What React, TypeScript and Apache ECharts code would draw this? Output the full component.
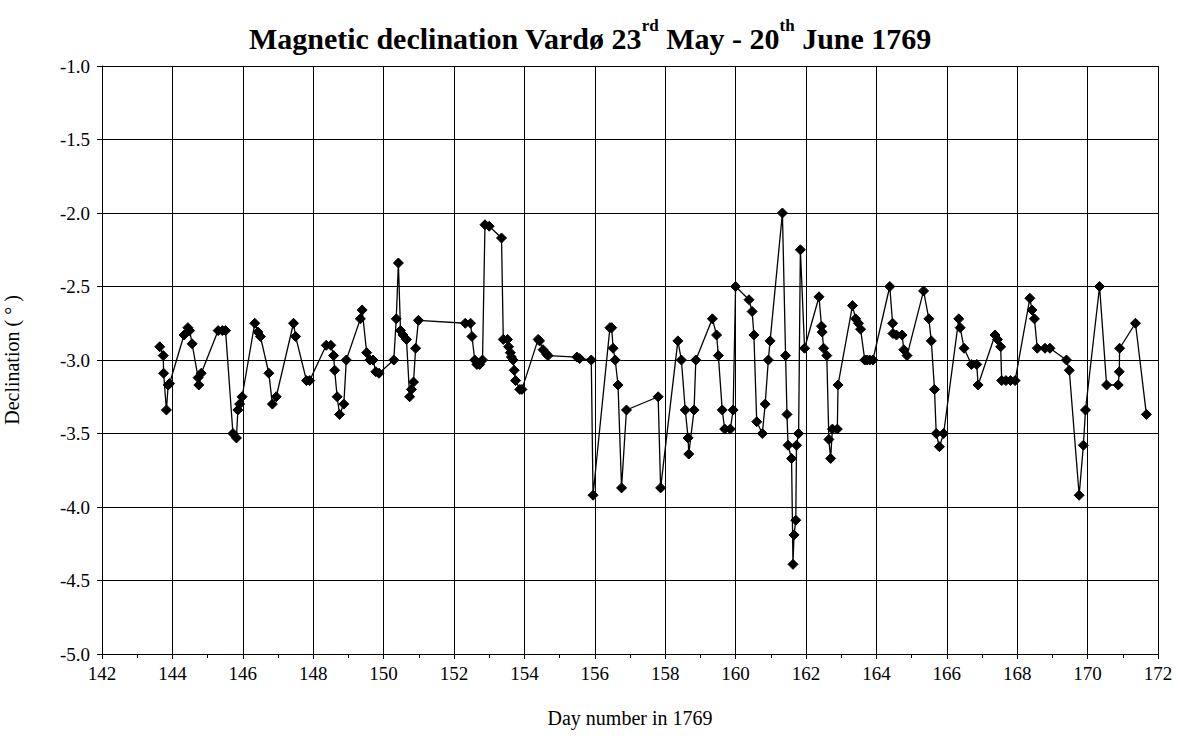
import React, { useEffect, useRef } from "react";
import * as echarts from "echarts";

const days: number[] = [
  143.64, 143.74, 143.75, 143.83, 143.88, 143.92, 144.33, 144.44, 144.49, 144.56, 144.73, 144.75, 144.82,
  145.30, 145.42, 145.51, 145.72, 145.82, 145.86, 145.91, 145.98, 146.34, 146.43, 146.50, 146.74, 146.84,
  146.95, 147.44, 147.50, 147.81, 147.90, 148.37, 148.50, 148.58, 148.61, 148.68, 148.75, 148.87, 148.94,
  149.34, 149.39, 149.52, 149.61, 149.70, 149.78, 149.87, 150.29, 150.36, 150.42, 150.48, 150.55, 150.65,
  150.74, 150.79, 150.85, 150.91, 150.99, 152.32, 152.47, 152.51, 152.59, 152.65, 152.73, 152.81, 152.88,
  153.00, 153.35, 153.40, 153.52, 153.55, 153.60, 153.63, 153.68, 153.71, 153.75, 153.87, 153.93, 154.39,
  154.43, 154.53, 154.63, 154.67, 155.49, 155.57, 155.90, 155.95, 156.43, 156.48, 156.52, 156.58, 156.66,
  156.76, 156.90, 157.80, 157.87, 158.36, 158.46, 158.57, 158.65, 158.67, 158.82, 158.87, 159.34, 159.46,
  159.51, 159.62, 159.69, 159.85, 159.93, 160.00, 160.38, 160.47, 160.52, 160.60, 160.76, 160.84, 160.93,
  160.98, 161.33, 161.42, 161.46, 161.49, 161.59, 161.63, 161.66, 161.71, 161.73, 161.79, 161.84, 161.96,
  162.37, 162.44, 162.46, 162.50, 162.59, 162.65, 162.70, 162.75, 162.89, 162.91, 163.32, 163.41, 163.49,
  163.55, 163.67, 163.73, 163.81, 163.90, 164.38, 164.46, 164.47, 164.57, 164.73, 164.78, 164.87, 165.34,
  165.49, 165.56, 165.65, 165.70, 165.79, 165.91, 166.34, 166.38, 166.49, 166.70, 166.85, 166.89, 167.37,
  167.44, 167.53, 167.56, 167.68, 167.81, 167.94, 168.36, 168.42, 168.49, 168.57, 168.79, 168.93, 169.40,
  169.48, 169.76, 169.88, 169.94, 170.34, 170.54, 170.87, 170.90, 170.91, 171.36, 171.67,
];

const declination: number[] = [
  -2.91, -2.97, -3.09, -3.34, -3.17, -3.16, -2.83, -2.78, -2.80, -2.89, -3.12, -3.17, -3.09,
  -2.80, -2.80, -2.80, -3.50, -3.53, -3.34, -3.30, -3.25, -2.75, -2.81, -2.84, -3.09, -3.30,
  -3.25, -2.75, -2.84, -3.14, -3.14, -2.90, -2.90, -2.97, -3.07, -3.25, -3.37, -3.30, -3.00,
  -2.72, -2.66, -2.95, -3.00, -3.00, -3.08, -3.09, -3.00, -2.72, -2.34, -2.80, -2.83, -2.86,
  -3.25, -3.20, -3.15, -2.92, -2.73, -2.75, -2.75, -2.84, -3.00, -3.03, -3.03, -3.00, -2.08,
  -2.09, -2.17, -2.86, -2.86, -2.91, -2.95, -2.98, -3.00, -3.07, -3.14, -3.20, -3.20, -2.86,
  -2.87, -2.93, -2.96, -2.97, -2.98, -2.99, -3.00, -3.92, -2.78, -2.78, -2.92, -3.00, -3.17,
  -3.87, -3.34, -3.25, -3.87, -2.87, -3.00, -3.34, -3.53, -3.64, -3.34, -3.00, -2.72, -2.83,
  -2.97, -3.34, -3.47, -3.47, -3.34, -2.50, -2.59, -2.67, -2.83, -3.42, -3.50, -3.30, -3.00,
  -2.87, -2.00, -2.97, -3.37, -3.58, -3.67, -4.39, -4.19, -4.09, -3.58, -3.50, -2.25, -2.92,
  -2.57, -2.77, -2.81, -2.92, -2.97, -3.54, -3.67, -3.47, -3.47, -3.17, -2.63, -2.72, -2.75,
  -2.79, -3.00, -3.00, -3.00, -3.00, -2.50, -2.75, -2.82, -2.83, -2.83, -2.93, -2.97, -2.53,
  -2.72, -2.87, -3.20, -3.50, -3.59, -3.50, -2.72, -2.78, -2.92, -3.03, -3.03, -3.17, -2.83,
  -2.86, -2.91, -3.14, -3.14, -3.14, -3.14, -2.58, -2.66, -2.72, -2.92, -2.92, -2.92, -3.00,
  -3.07, -3.92, -3.58, -3.34, -2.50, -3.17, -3.17, -3.08, -2.92, -2.75, -3.37,
];

const xMin = 142;
const xMax = 172;
const xStep = 2;
const yMin = -5;
const yMax = -1;
const yStep = 0.5;

const FONT = "'Liberation Serif', 'Times New Roman', serif";

export default function App() {
  const ref = useRef<HTMLDivElement>(null);

  useEffect(() => {
    document.body.style.margin = "0";
    if (!ref.current) return;
    const chart = echarts.init(ref.current, undefined, { renderer: "svg" });
    const points = days.map((d, i) => [d, declination[i]]);
    chart.setOption({
      animation: false,
      backgroundColor: "#ffffff",
      title: {
        text: "{m|Magnetic declination Vardø 23}{s|rd}{m| May - 20}{s|th}{m| June 1769}",
        left: "center",
        top: 12,
        textStyle: {
          rich: {
            m: { fontFamily: FONT, fontSize: 30, fontWeight: "bold", color: "#000", lineHeight: 36, verticalAlign: "bottom" },
            s: { fontFamily: FONT, fontSize: 17, fontWeight: "bold", color: "#000", lineHeight: 36, verticalAlign: "top", padding: [0, 0, 8, 0] },
          },
        },
      },
      grid: { left: 102, right: 22, top: 66, bottom: 92, show: false, containLabel: false, outerBoundsMode: "none" },
      xAxis: {
        type: "value",
        min: xMin,
        max: xMax,
        interval: xStep,
        name: "Day number in 1769",
        nameLocation: "middle",
        nameGap: 54,
        nameTextStyle: { fontFamily: FONT, fontSize: 20, color: "#000" },
        axisLine: { show: true, lineStyle: { color: "#000", width: 1 } },
        axisTick: { show: true, inside: false, length: 5, lineStyle: { color: "#000" } },
        minorTick: { show: true, splitNumber: 2, length: 4, lineStyle: { color: "#000" } },
        axisLabel: { fontFamily: FONT, fontSize: 19, color: "#000", margin: 10 },
        splitLine: { show: true, lineStyle: { color: "#000", width: 1 } },
      },
      yAxis: {
        type: "value",
        min: yMin,
        max: yMax,
        interval: yStep,
        name: "Declination ( ° )",
        nameLocation: "middle",
        nameRotate: 90,
        nameGap: 80,
        nameTextStyle: { fontFamily: FONT, fontSize: 20, color: "#000" },
        axisLine: { show: true, onZero: false, lineStyle: { color: "#000", width: 1 } },
        axisTick: { show: true, inside: false, length: 5, lineStyle: { color: "#000" } },
        axisLabel: {
          fontFamily: FONT,
          fontSize: 19,
          color: "#000",
          margin: 12,
          formatter: (v: number) => v.toFixed(1),
        },
        splitLine: { show: true, lineStyle: { color: "#000", width: 1 } },
      },
      series: [
        {
          type: "line",
          data: points,
          symbol: "diamond",
          symbolSize: 10,
          showAllSymbol: true,
          lineStyle: { color: "#000", width: 1.3 },
          itemStyle: { color: "#000", borderColor: "#000" },
          emphasis: { disabled: true },
        },
      ],
    });
    return () => chart.dispose();
  }, []);

  return <div ref={ref} style={{ width: 1180, height: 746 }} />;
}
